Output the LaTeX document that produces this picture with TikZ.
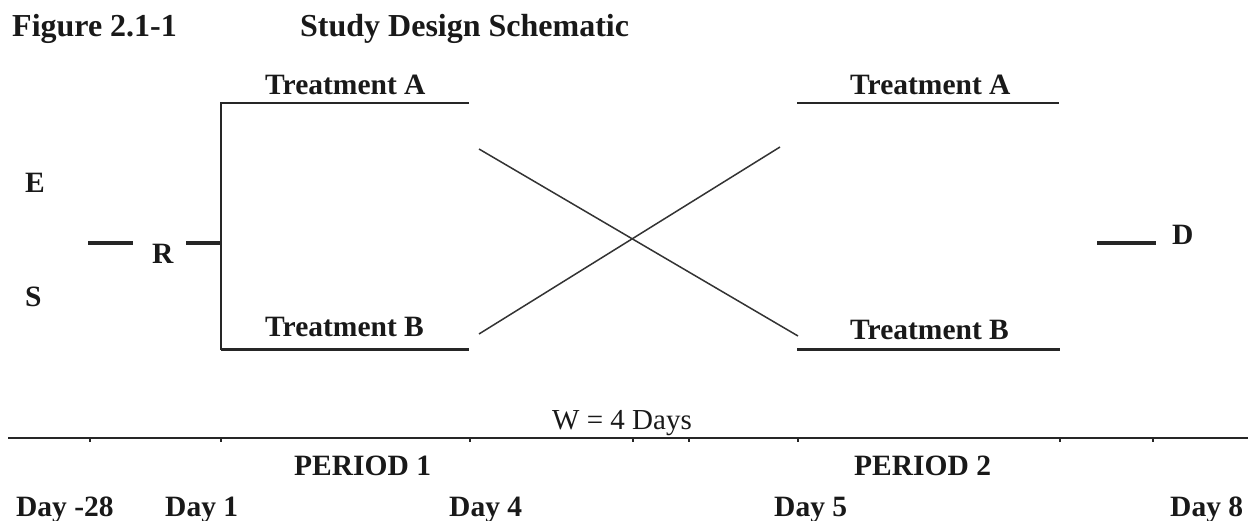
\documentclass[tikz,border=0pt]{standalone}
\usepackage{fontspec}
\setmainfont{Liberation Serif}
\begin{document}
\begin{tikzpicture}[x=1pt,y=-1pt,
  lbl/.style={inner sep=0pt,anchor=base west,font=\bfseries\fontsize{29.5}{30}\selectfont,text=black!90},
  ttl/.style={inner sep=0pt,anchor=base west,font=\bfseries\fontsize{32}{32}\selectfont,text=black!90},
  plain/.style={inner sep=0pt,anchor=base west,font=\fontsize{29}{29}\selectfont,text=black!90},
  arm/.style={draw=black!85,line width=2pt},
  armb/.style={draw=black!85,line width=3pt},
  dashln/.style={draw=black!85,line width=3.2pt},
  cross/.style={draw=black!80,line width=1.5pt},
  axis/.style={draw=black!85,line width=1.6pt},
  tick/.style={draw=black!85,line width=1.6pt}]
\useasboundingbox (0,0) rectangle (1248,521);

% title
\node[ttl] (fig) at (12,37) {Figure 2.1-1};
\node[ttl] (sds) at (300,37) {Study Design Schematic};

% left letters
\node[lbl] (E) at (25,193) {E};
\node[lbl] (S) at (25,307) {S};
\node[lbl] (R) at (152,264) {R};
\node[lbl] (D) at (1172,245) {D};

% R dashes
\coordinate (rl1) at (88,243);
\coordinate (rl2) at (133,243);
\coordinate (rr1) at (186,243);
\coordinate (rr2) at (221,243);
\draw[dashln] (rl1) -- (rl2);
\draw[dashln] (rr1) -- (rr2);

% D dash
\coordinate (dl1) at (1097,243);
\coordinate (dl2) at (1156,243);
\draw[dashln] (dl1) -- (dl2);

% period 1 arms
\coordinate (a1s) at (221,103);
\coordinate (a1e) at (469,103);
\coordinate (b1s) at (221,350);
\coordinate (b1e) at (469,350);
\draw[arm] (a1e) -- (a1s) -- (b1s);
\draw[armb] (b1s) -- (b1e);
\node[lbl] (tA1) at (265,95) {Treatment A};
\node[lbl] (tB1) at (265,337) {Treatment B};

% period 2 arms
\coordinate (a2s) at (797,103);
\coordinate (a2e) at (1059,103);
\coordinate (b2s) at (797,350);
\coordinate (b2e) at (1060,350);
\draw[arm] (a2s) -- (a2e);
\draw[armb] (b2s) -- (b2e);
\node[lbl] (tA2) at (850,95) {Treatment A};
\node[lbl] (tB2) at (850,340) {Treatment B};

% crossover lines
\coordinate (c1s) at (479,149);
\coordinate (c1e) at (798,336);
\coordinate (c2s) at (479,334);
\coordinate (c2e) at (780,147);
\draw[cross] (c1s) -- (c1e);
\draw[cross] (c2s) -- (c2e);

% timeline
\node[plain] (W) at (552,429) {W = 4 Days};
\coordinate (t0) at (8,438);
\coordinate (t1) at (1248,438);
\draw[axis] (t0) -- (t1);
\foreach \tx in {90,221,470,633,689,798,1060,1153}{
  \draw[tick] (\tx,438) -- (\tx,442);
}
\node[lbl] (P1) at (294,475) {PERIOD 1};
\node[lbl] (P2) at (854,475) {PERIOD 2};

\node[lbl] (d28) at (16,516) {Day -28};
\node[lbl] (d1) at (165,516) {Day 1};
\node[lbl] (d4) at (449,516) {Day 4};
\node[lbl] (d5) at (774,516) {Day 5};
\node[lbl] (d8) at (1170,516) {Day 8};
\end{tikzpicture}
\end{document}
